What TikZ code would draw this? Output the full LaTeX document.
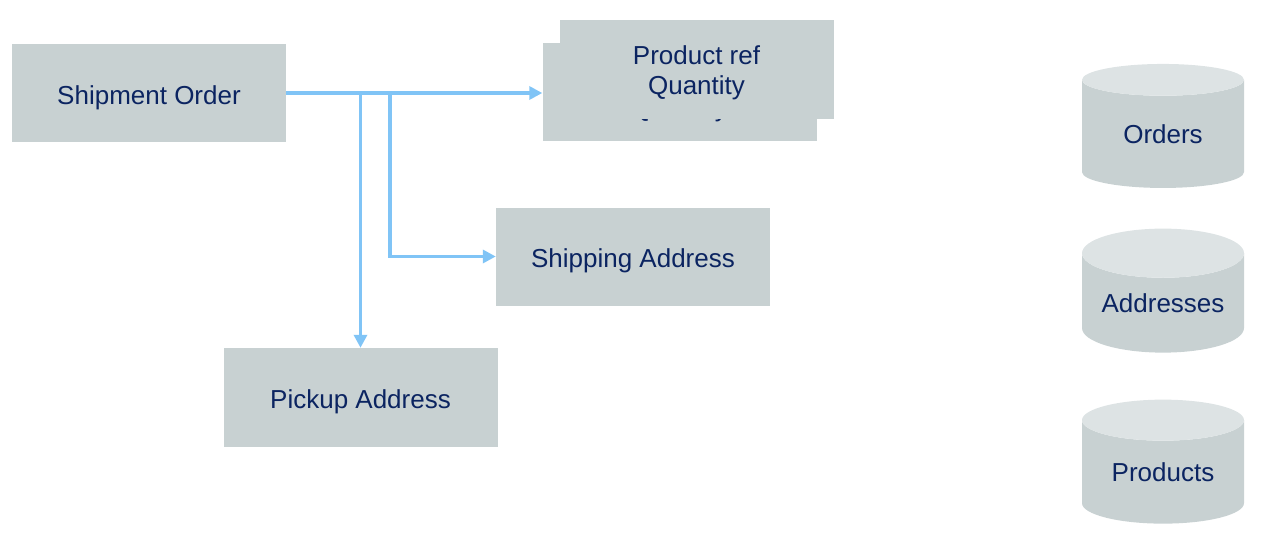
\documentclass[tikz,border=0pt]{standalone}
\usepackage{fontspec}
\setmainfont{Liberation Sans}
\usepackage{xcolor}
\usepackage{tikz}
\usetikzlibrary{shapes.geometric,arrows.meta}

\definecolor{boxgray}{HTML}{C8D1D2}
\definecolor{topgray}{HTML}{DDE3E4}
\definecolor{inkblue}{HTML}{0B2461}
\definecolor{flowblue}{HTML}{80C4F6}

\tikzset{
  entity/.style={fill=boxgray, minimum width=274pt, minimum height=98pt, inner sep=0pt,
    text=inkblue, font=\fontsize{26}{30}\selectfont, align=center,
    text height=22pt, text depth=0pt},
  store/.style={cylinder, shape border rotate=90, aspect=0.4, cylinder uses custom fill,
    cylinder body fill=boxgray, cylinder end fill=topgray, minimum width=162pt,
    minimum height=124pt, inner sep=0pt, text=inkblue, font=\fontsize{26}{30}\selectfont},
  flow/.style={draw=flowblue, line width=3.5pt, -{Triangle[length=13pt,width=13pt]}}
}

\begin{document}
\begin{tikzpicture}[x=1pt, y=-1pt]
\useasboundingbox (0,0) rectangle (1262,546);
\node[entity] (ship) at (149,93) {Shipment Order};
\node[entity, text height=49pt] (prodlow) at (679.5,92) {Product ref\\Quantity};
\node[entity, text height=49pt, minimum height=99pt] (prodtop) at (696.5,69.5) {Product ref\\Quantity};
\node[entity] (shipaddr) at (633,256.5) {Shipping Address};
\node[entity, minimum height=99pt] (pickup) at (360.5,397.5) {Pickup Address};
\coordinate (fork) at (390,93);
\draw[flow] (ship.east) -- (prodlow.west |- ship.east);
\draw[flow] (pickup.north |- ship.east) -- (pickup.north);
\draw[flow] (fork) |- (shipaddr.west);
\node[store] (orders) at (1163,134) {Orders};
\node[store] (addresses) at (1163,303) {Addresses};
\node[store] (products) at (1163,472) {Products};
\end{tikzpicture}
\end{document}
